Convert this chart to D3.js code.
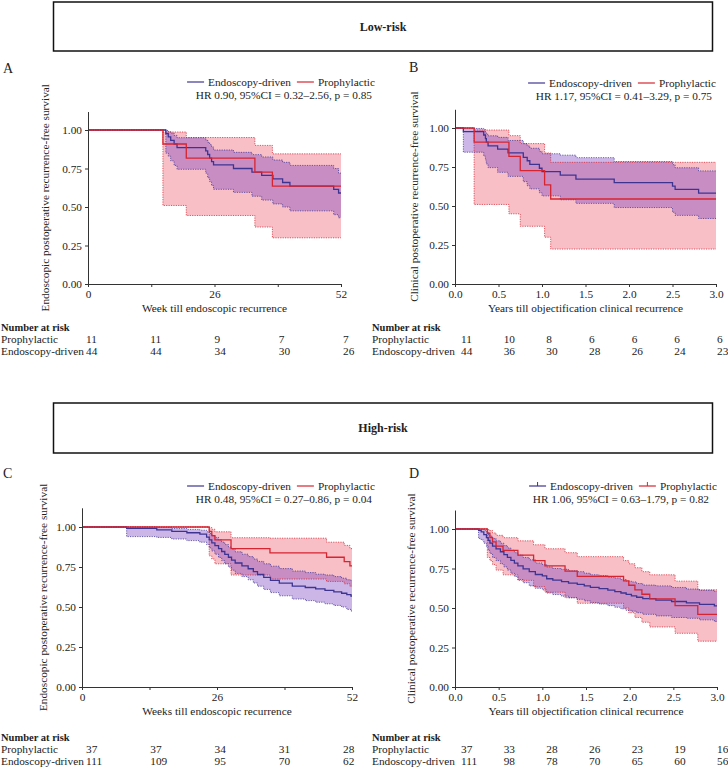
<!DOCTYPE html>
<html>
<head>
<meta charset="utf-8">
<script src="https://cdn.jsdelivr.net/npm/d3@7"></script>
<style>
  body { margin: 0; background: #fff; }
  svg text { font-family: "Liberation Serif", "Times New Roman", serif; fill: #222; }
</style>
</head>
<body>
<svg id="fig" width="728" height="769"></svg>
<script>
// rows: [time, survival, lower 95% CI, upper 95% CI]
const aEndo = [
  [0, 1, 1, 1], [16.0, 0.977, 0.85, 0.997], [16.5, 0.955, 0.83, 0.99],
  [17.0, 0.932, 0.8, 0.98], [17.7, 0.909, 0.77, 0.965], [18.3, 0.886, 0.745, 0.95],
  [24.2, 0.864, 0.72, 0.935], [24.6, 0.841, 0.69, 0.92], [25.0, 0.818, 0.665, 0.905],
  [25.4, 0.795, 0.64, 0.89], [25.8, 0.773, 0.615, 0.87], [29.9, 0.75, 0.595, 0.855],
  [33.7, 0.727, 0.57, 0.84], [35.7, 0.705, 0.545, 0.825], [38.0, 0.682, 0.52, 0.805],
  [40.0, 0.659, 0.5, 0.79], [41.5, 0.636, 0.475, 0.77], [50.5, 0.614, 0.45, 0.75],
  [51.5, 0.591, 0.43, 0.72]
];
const aProph = [
  [0, 1, 1, 1], [15.4, 0.909, 0.51, 0.987], [20.2, 0.818, 0.445, 0.951],
  [34.3, 0.727, 0.37, 0.9], [37.9, 0.636, 0.3, 0.845]
];

const bEndo = [
  [0, 1, 1, 1], [0.096, 0.977, 0.845, 0.997], [0.33, 0.955, 0.82, 0.99],
  [0.35, 0.932, 0.795, 0.975], [0.36, 0.909, 0.77, 0.96], [0.38, 0.886, 0.746, 0.95],
  [0.49, 0.864, 0.716, 0.94], [0.61, 0.84, 0.69, 0.92], [0.785, 0.812, 0.656, 0.9],
  [0.83, 0.79, 0.63, 0.885], [0.86, 0.767, 0.61, 0.87], [0.97, 0.742, 0.585, 0.85],
  [1.0, 0.72, 0.565, 0.835], [1.21, 0.698, 0.54, 0.826], [1.39, 0.672, 0.517, 0.81],
  [1.83, 0.65, 0.49, 0.785], [2.5, 0.628, 0.46, 0.765], [2.53, 0.607, 0.44, 0.745],
  [2.8, 0.582, 0.42, 0.725]
];
const bProph = [
  [0, 1, 1, 1], [0.22, 0.909, 0.51, 0.987], [0.62, 0.818, 0.45, 0.951],
  [0.75, 0.727, 0.37, 0.9], [1.03, 0.636, 0.3, 0.84], [1.1, 0.545, 0.224, 0.78]
];

const cEndo = [
  [0, 1, 1, 1], [8.6, 0.991, 0.94, 1.0], [14.4, 0.982, 0.935, 0.997],
  [17.3, 0.973, 0.925, 0.99], [20.2, 0.964, 0.915, 0.985], [22.7, 0.955, 0.905, 0.98],
  [24.0, 0.937, 0.89, 0.97], [24.5, 0.919, 0.87, 0.96], [25.0, 0.901, 0.85, 0.945],
  [25.6, 0.883, 0.83, 0.935], [26.3, 0.865, 0.81, 0.92], [26.9, 0.847, 0.79, 0.905],
  [27.5, 0.829, 0.77, 0.89], [28.2, 0.811, 0.75, 0.875], [28.8, 0.793, 0.73, 0.86],
  [29.5, 0.775, 0.71, 0.845], [30.8, 0.757, 0.69, 0.83], [32.0, 0.739, 0.67, 0.815],
  [33.0, 0.721, 0.65, 0.8], [33.8, 0.703, 0.63, 0.785], [35.0, 0.685, 0.61, 0.77],
  [36.3, 0.667, 0.59, 0.755], [38.0, 0.649, 0.57, 0.74], [40.5, 0.631, 0.55, 0.725],
  [43.0, 0.622, 0.54, 0.715], [45.0, 0.613, 0.53, 0.705], [46.8, 0.604, 0.52, 0.7],
  [48.5, 0.595, 0.51, 0.69], [50.0, 0.586, 0.5, 0.68], [51.0, 0.577, 0.485, 0.67],
  [51.8, 0.568, 0.475, 0.665]
];
const cProph = [
  [0, 1, 1, 1], [24.5, 0.973, 0.82, 0.996], [25.0, 0.946, 0.8, 0.986],
  [25.6, 0.919, 0.77, 0.97], [28.7, 0.865, 0.7, 0.933], [36.2, 0.838, 0.675, 0.93],
  [47.1, 0.811, 0.66, 0.905], [50.5, 0.784, 0.645, 0.885], [51.6, 0.757, 0.63, 0.865]
];

const dEndo = [
  [0, 1, 1, 1], [0.27, 0.991, 0.94, 0.999], [0.3, 0.982, 0.93, 0.997],
  [0.33, 0.964, 0.91, 0.99], [0.36, 0.946, 0.89, 0.98], [0.38, 0.928, 0.865, 0.965],
  [0.4, 0.91, 0.845, 0.955], [0.43, 0.892, 0.82, 0.94], [0.47, 0.874, 0.8, 0.925],
  [0.52, 0.856, 0.78, 0.91], [0.56, 0.838, 0.76, 0.895], [0.6, 0.82, 0.74, 0.88],
  [0.64, 0.802, 0.72, 0.865], [0.68, 0.784, 0.7, 0.85], [0.72, 0.766, 0.68, 0.835],
  [0.78, 0.748, 0.66, 0.82], [0.85, 0.73, 0.64, 0.805], [0.92, 0.712, 0.625, 0.785],
  [1.0, 0.703, 0.615, 0.775], [1.05, 0.685, 0.595, 0.76], [1.12, 0.676, 0.585, 0.75],
  [1.22, 0.667, 0.575, 0.745], [1.3, 0.658, 0.565, 0.735], [1.4, 0.649, 0.555, 0.73],
  [1.48, 0.64, 0.545, 0.72], [1.55, 0.631, 0.535, 0.71], [1.65, 0.622, 0.525, 0.705],
  [1.75, 0.613, 0.515, 0.695], [1.83, 0.604, 0.505, 0.69], [1.9, 0.595, 0.495, 0.68],
  [1.96, 0.586, 0.485, 0.67], [2.02, 0.577, 0.48, 0.665], [2.08, 0.568, 0.47, 0.655],
  [2.15, 0.559, 0.46, 0.645], [2.3, 0.55, 0.45, 0.64], [2.48, 0.541, 0.44, 0.63],
  [2.65, 0.532, 0.435, 0.62], [2.8, 0.523, 0.425, 0.612], [2.97, 0.514, 0.415, 0.605]
];
const dProph = [
  [0, 1, 1, 1], [0.37, 0.973, 0.82, 0.996], [0.4, 0.946, 0.8, 0.99],
  [0.43, 0.919, 0.775, 0.975], [0.47, 0.892, 0.74, 0.96], [0.55, 0.865, 0.71, 0.945],
  [0.72, 0.835, 0.675, 0.925], [0.9, 0.8, 0.635, 0.9], [1.03, 0.767, 0.6, 0.875],
  [1.26, 0.733, 0.565, 0.85], [1.4, 0.7, 0.53, 0.825], [1.93, 0.672, 0.5, 0.8],
  [1.99, 0.644, 0.47, 0.78], [2.06, 0.615, 0.44, 0.755], [2.14, 0.587, 0.41, 0.73],
  [2.23, 0.558, 0.38, 0.71], [2.52, 0.515, 0.34, 0.67], [2.78, 0.46, 0.29, 0.615]
];

const weekTicks = [0, 13, 26, 39, 52];
const yearTicks = [0, 0.5, 1, 1.5, 2, 2.5, 3];
const survTicks = [0, 0.25, 0.5, 0.75, 1];

// number at risk
const aRiskProph = [11, 11, 9, 7, 7];
const aRiskEndo = [44, 44, 34, 30, 26];
const bRiskProph = [11, 10, 8, 6, 6, 6, 6];
const bRiskEndo = [44, 36, 30, 28, 26, 24, 23];
const cRiskProph = [37, 37, 34, 31, 28];
const cRiskEndo = [111, 109, 95, 70, 62];
const dRiskProph = [37, 33, 28, 26, 23, 19, 16];
const dRiskEndo = [111, 98, 78, 70, 65, 60, 56];

const hrLabels = [
  "HR 0.90, 95%CI = 0.32–2.56, p = 0.85",
  "HR 1.17, 95%CI = 0.41–3.29, p = 0.75",
  "HR 0.48, 95%CI = 0.27–0.86, p = 0.04",
  "HR 1.06, 95%CI = 0.63–1.79, p = 0.82"
];
const groupNames = ["Endoscopy-driven", "Prophylactic"];
const riskTitles = ["Low-risk", "High-risk"];

const endoColor = "#3d3492";
const prophColor = "#d62530";
const endoFill = "#7a3fc0";
const prophFill = "#ec3c55";
const fontSize = 11.3;

const svg = d3.select("#fig");

const panels = [
  {
    letter: "A", endo: aEndo, proph: aProph, ticks: weekTicks, riskProph: aRiskProph, riskEndo: aRiskEndo,
    hr: hrLabels[0], xTitle: "Week till endoscopic recurrence",
    yTitle: "Endoscopic postoperative recurrence-free survival",
    left: 88, right: 341, y0: 284, y1: 130, letterX: 3, letterY: 73, yTitleX: 45,
    legendY: 82, hrY: 94.5, legendRight: 375, hrRight: 372,
    tableX: 1, tableRange: [86, 343], tableY: 331, censor: false
  },
  {
    letter: "B", endo: bEndo, proph: bProph, ticks: yearTicks, riskProph: bRiskProph, riskEndo: bRiskEndo,
    hr: hrLabels[1], xTitle: "Years till objectification clinical recurrence",
    yTitle: "Clinical postoperative recurrence-free survival",
    left: 455, right: 716, y0: 284, y1: 128, letterX: 409, letterY: 72, yTitleX: 414,
    legendY: 83, hrY: 95.5, legendRight: 716, hrRight: 712,
    tableX: 372, tableRange: [461, 717], tableY: 331, censor: false
  },
  {
    letter: "C", endo: cEndo, proph: cProph, ticks: weekTicks, riskProph: cRiskProph, riskEndo: cRiskEndo,
    hr: hrLabels[2], xTitle: "Weeks till endoscopic recurrence",
    yTitle: "Endoscopic postoperative recurrence-free survival",
    left: 82, right: 352, y0: 687, y1: 527, letterX: 3, letterY: 478, yTitleX: 43,
    legendY: 486, hrY: 499, legendRight: 375, hrRight: 372,
    tableX: 1, tableRange: [86, 343], tableY: 741, censor: false
  },
  {
    letter: "D", endo: dEndo, proph: dProph, ticks: yearTicks, riskProph: dRiskProph, riskEndo: dRiskEndo,
    hr: hrLabels[3], xTitle: "Years till objectification clinical recurrence",
    yTitle: "Clinical postoperative recurrence-free survival",
    left: 455, right: 717, y0: 687, y1: 529, letterX: 409, letterY: 478, yTitleX: 411,
    legendY: 486, hrY: 499, legendRight: 717, hrRight: 709,
    tableX: 372, tableRange: [461, 717], tableY: 741, censor: true
  }
];

// section header boxes
const boxes = [
  { label: riskTitles[0], y: 2, h: 49 },
  { label: riskTitles[1], y: 403, h: 50 }
];
boxes.forEach((b) => {
  svg.append("rect")
    .attr("x", 53.5).attr("y", b.y).attr("width", 659).attr("height", b.h)
    .attr("fill", "none").attr("stroke", "#111").attr("stroke-width", 1.5);
  svg.append("text")
    .attr("x", 383).attr("y", b.y + b.h / 2 + 4)
    .attr("text-anchor", "middle").attr("font-size", 12).attr("font-weight", "bold")
    .text(b.label);
});

const drawPanel = (p) => {
  const xMax = p.ticks[p.ticks.length - 1];
  const x = d3.scaleLinear().domain([0, xMax]).range([p.left, p.right]);
  const yTop = 1.12;
  const y = d3.scaleLinear().domain([0, yTop]).range([p.y0, p.y0 - yTop * (p.y0 - p.y1)]);

  const g = svg.append("g");

  // extend each curve to the end of follow-up
  const extend = (rows) => rows.concat([[xMax].concat(rows[rows.length - 1].slice(1))]);
  const endo = extend(p.endo);
  const proph = extend(p.proph);

  const band = d3.area().curve(d3.curveStepAfter)
    .x((d) => x(d[0])).y0((d) => y(d[2])).y1((d) => y(d[3]));
  const line = (i) => d3.line().curve(d3.curveStepAfter)
    .x((d) => x(d[0])).y((d) => y(d[i]));

  g.append("path").datum(proph).attr("d", band).attr("fill", prophFill).attr("fill-opacity", 0.33);
  g.append("path").datum(endo).attr("d", band).attr("fill", endoFill).attr("fill-opacity", 0.38);

  [[proph, prophColor], [endo, endoColor]].forEach(([rows, col]) => {
    [2, 3].forEach((i) => {
      g.append("path").datum(rows).attr("d", line(i))
        .attr("fill", "none").attr("stroke", col).attr("stroke-width", 0.9)
        .attr("stroke-dasharray", "1.2,1.2").attr("stroke-opacity", 0.85);
    });
  });

  g.append("path").datum(endo).attr("d", line(1))
    .attr("fill", "none").attr("stroke", endoColor).attr("stroke-width", 1.3);
  g.append("path").datum(proph).attr("d", line(1))
    .attr("fill", "none").attr("stroke", prophColor).attr("stroke-width", 1.3);

  // axes
  const fmtX = xMax === 52 ? (d) => (d % 26 === 0 ? d : "") : d3.format(".1f");
  const xAxis = g.append("g")
    .attr("transform", `translate(0,${p.y0})`)
    .call(d3.axisBottom(x).tickValues(p.ticks).tickFormat(fmtX).tickSize(3).tickSizeOuter(0).tickPadding(3));
  const yAxis = g.append("g")
    .attr("transform", `translate(${p.left},0)`)
    .call(d3.axisLeft(y).tickValues(survTicks).tickFormat(d3.format(".2f")).tickSize(3).tickSizeOuter(0).tickPadding(3));
  [xAxis, yAxis].forEach((ax) => {
    ax.selectAll("path, line").attr("stroke", "#333");
    ax.selectAll("text").attr("font-size", fontSize).attr("font-family", null).attr("fill", "#222");
  });

  g.append("text")
    .attr("x", (p.left + p.right) / 2).attr("y", p.y0 + 28)
    .attr("text-anchor", "middle").attr("font-size", fontSize)
    .text(p.xTitle);
  g.append("text")
    .attr("transform", `translate(${p.yTitleX},${(p.y0 + y(yTop)) / 2}) rotate(-90)`)
    .attr("dy", "0.35em")
    .attr("text-anchor", "middle").attr("font-size", fontSize)
    .text(p.yTitle);

  g.append("text")
    .attr("x", p.letterX).attr("y", p.letterY)
    .attr("font-size", 14)
    .text(p.letter);

  // legend, right aligned
  const legend = g.append("g");
  let cx = 0;
  [[groupNames[0], endoColor], [groupNames[1], prophColor]].forEach(([name, col], i) => {
    if (i > 0) cx += 6;
    legend.append("line")
      .attr("x1", cx).attr("x2", cx + 17).attr("y1", 0).attr("y2", 0)
      .attr("stroke", col).attr("stroke-width", 1.2);
    if (p.censor) {
      legend.append("line")
        .attr("x1", cx + 8.5).attr("x2", cx + 8.5).attr("y1", 0).attr("y2", -4)
        .attr("stroke", col).attr("stroke-width", 1);
    }
    cx += 21;
    const t = legend.append("text")
      .attr("x", cx).attr("y", 4).attr("font-size", fontSize)
      .text(name);
    cx += t.node().getComputedTextLength();
  });
  legend.attr("transform", `translate(${p.legendRight - cx},${p.legendY})`);

  g.append("text")
    .attr("x", p.hrRight).attr("y", p.hrY + 4)
    .attr("text-anchor", "end").attr("font-size", fontSize)
    .text(p.hr);

  // number at risk table, columns left aligned
  const tx = d3.scaleLinear().domain([0, xMax]).range(p.tableRange);
  const table = g.append("g").attr("font-size", fontSize);
  table.append("text")
    .attr("x", p.tableX).attr("y", p.tableY)
    .attr("font-weight", "bold").attr("font-size", 10.5)
    .text("Number at risk");
  [[groupNames[1], p.riskProph], [groupNames[0], p.riskEndo]].forEach(([name, counts], r) => {
    const rowY = p.tableY + 12 * (r + 1);
    table.append("text").attr("x", p.tableX).attr("y", rowY).text(name);
    table.selectAll(null)
      .data(counts)
      .enter()
      .append("text")
      .attr("x", (d, i) => tx(p.ticks[i]))
      .attr("y", rowY)
      .text((d) => d);
  });
};

panels.forEach(drawPanel);
</script>
</body>
</html>
